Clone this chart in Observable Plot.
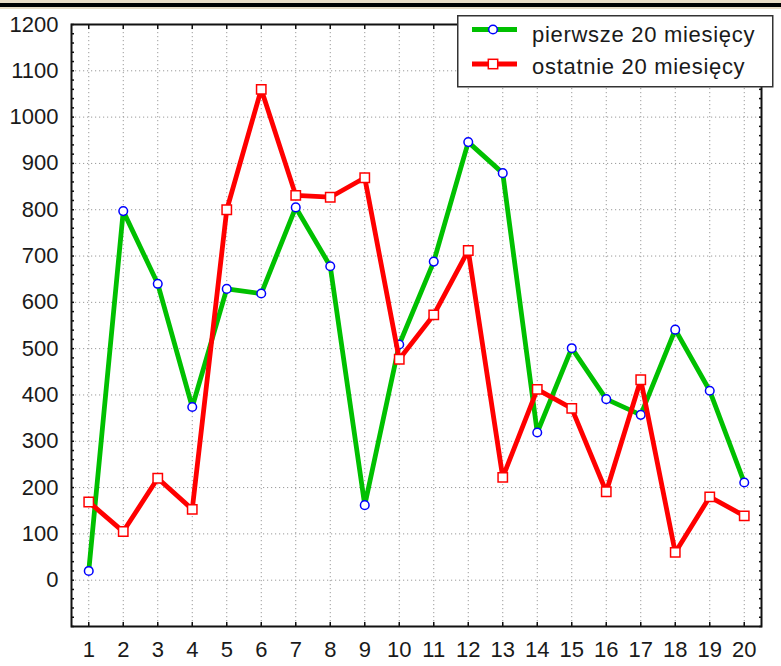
<!DOCTYPE html>
<html><head><meta charset="utf-8">
<script src="https://cdn.jsdelivr.net/npm/d3@7"></script>
<script src="https://cdn.jsdelivr.net/npm/@observablehq/plot@0.6"></script>
<style>
body{margin:0;background:#fff;font-family:"Liberation Sans",Arial,sans-serif}
#wrap{position:relative;width:781px;height:666px;overflow:hidden;background:#fff}
#strip{position:absolute;left:0;top:0;width:781px;height:9px;background:#e9dcc5}
#strip div{position:absolute;left:0;top:3px;width:100%;height:4px;background:#000}
#legend{position:absolute;left:457px;top:15px}
#chart svg{display:block}
</style></head><body>
<div id="wrap"><div id="chart"></div><div id="strip"><div></div></div><div id="legend"></div></div>
<script>
const months = [1,2,3,4,5,6,7,8,9,10,11,12,13,14,15,16,17,18,19,20];
const first = [20,797,640,374,629,619,805,678,162,509,688,946,879,319,501,391,357,541,409,211];
const last  = [169,105,220,153,800,1060,831,827,869,477,573,712,222,412,371,191,433,60,180,139];
const seriesNames = ["pierwsze 20 miesięcy", "ostatnie 20 miesięcy"];
const yTicks = [0,100,200,300,400,500,600,700,800,900,1000,1100,1200];
const yMinor = d3.range(-100, 1201, 20);

const green = "#00c000", red = "#ff0000", blue = "#0000ff";

const chart = Plot.plot({
  width: 781, height: 666,
  marginTop: 24, marginLeft: 71, marginRight: 20, marginBottom: 40,
  style: {fontFamily: "'Liberation Sans', Arial, sans-serif", fontSize: "22px", color: "#1a1a1a", background: "transparent", overflow: "visible"},
  x: {domain: [0.5, 20.5]},
  y: {domain: [-100, 1200]},
  marks: [
    Plot.gridX(months, {stroke: "#9a9a9a", strokeOpacity: 1, strokeDasharray: "1.2,2.8"}),
    Plot.gridY(yTicks, {stroke: "#9a9a9a", strokeOpacity: 1, strokeDasharray: "1.2,2.8"}),
    Plot.axisY(yTicks, {tickSize: 0, tickPadding: 13, tickFormat: d => String(d), label: null}),
    Plot.axisY(yMinor, {tickSize: -3, tickFormat: () => "", label: null, stroke: "#111", strokeWidth: 1.5}),
    Plot.axisY(yMinor, {anchor: "right", tickSize: -3, tickFormat: () => "", label: null, stroke: "#111", strokeWidth: 1.5}),
    Plot.axisX(months, {tickSize: 0, tickPadding: 15, tickFormat: d => String(d), label: null}),
    Plot.axisX(months, {tickSize: -4, tickFormat: () => "", label: null, stroke: "#111", strokeWidth: 1.5}),
    Plot.axisX(months, {anchor: "top", tickSize: -4, tickFormat: () => "", label: null, stroke: "#111", strokeWidth: 1.5}),
    Plot.frame({stroke: "#111", strokeWidth: 2}),
    Plot.line(months, {x: d => d, y: (d, i) => first[i], stroke: green, strokeWidth: 4.8, strokeLinejoin: "miter"}),
    Plot.dot(months, {x: d => d, y: (d, i) => first[i], r: 4.3, stroke: blue, fill: "white", strokeWidth: 1.5}),
    Plot.line(months, {x: d => d, y: (d, i) => last[i], stroke: red, strokeWidth: 4.8, strokeLinejoin: "miter"}),
    Plot.dot(months, {x: d => d, y: (d, i) => last[i], r: 5.3, symbol: "square", stroke: red, fill: "white", strokeWidth: 1.5})
  ]
});
document.getElementById("chart").appendChild(chart);

// legend
const lg = d3.select("#legend").append("svg").attr("width", 317).attr("height", 73);
lg.append("rect").attr("x", 0.75).attr("y", 0.75).attr("width", 315).attr("height", 71)
  .attr("fill", "white").attr("stroke", "#333").attr("stroke-width", 1.5);
const entries = [
  {name: seriesNames[0], color: green, marker: "circle", cy: 14.5, base: 26.5},
  {name: seriesNames[1], color: red, marker: "square", cy: 49, base: 59}
];
entries.forEach(e => {
  lg.append("line").attr("x1", 15).attr("x2", 60).attr("y1", e.cy).attr("y2", e.cy)
    .attr("stroke", e.color).attr("stroke-width", 4.8);
  if (e.marker === "circle") {
    lg.append("circle").attr("cx", 36).attr("cy", e.cy).attr("r", 4.3)
      .attr("fill", "white").attr("stroke", blue).attr("stroke-width", 1.5);
  } else {
    lg.append("rect").attr("x", 36 - 4.7).attr("y", e.cy - 4.7).attr("width", 9.4).attr("height", 9.4)
      .attr("fill", "white").attr("stroke", red).attr("stroke-width", 1.5);
  }
  lg.append("text").attr("x", 75).attr("y", e.base).text(e.name)
    .attr("font-family", "'Liberation Sans', Arial, sans-serif").attr("font-size", 22)
    .attr("letter-spacing", "0.7px").attr("fill", "#1a1a1a");
});
</script>
</body></html>
